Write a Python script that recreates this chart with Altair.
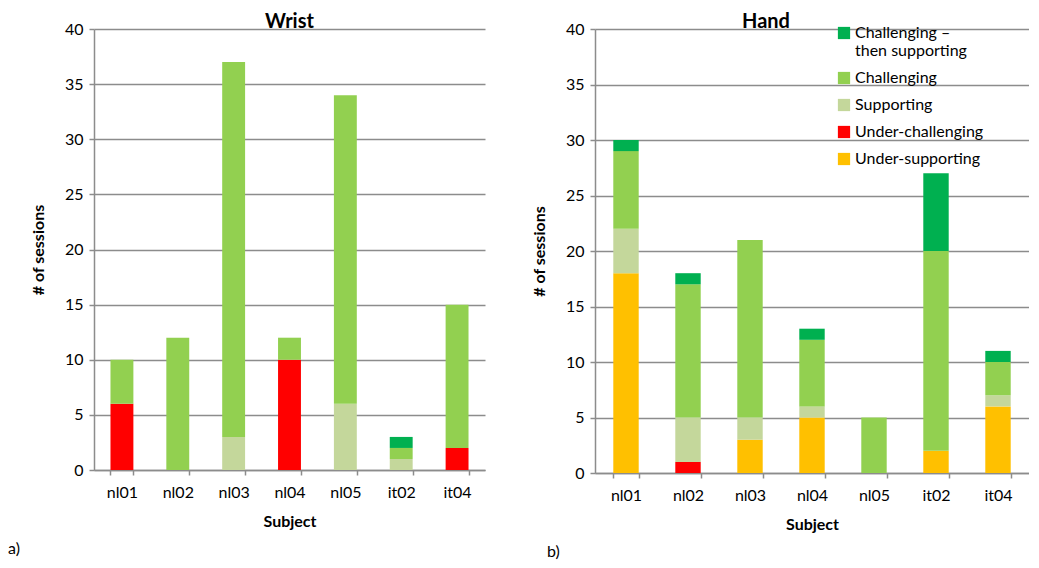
import altair as alt
import pandas as pd

subjects = ["nl01", "nl02", "nl03", "nl04", "nl05", "it02", "it04"]
categories = ["Under-supporting", "Under-challenging", "Supporting", "Challenging",
              "Challenging – then supporting"]
colors = ["#FFC000", "#FF0000", "#C4D79B", "#92D050", "#00B050"]

wrist_under_supporting = [0, 0, 0, 0, 0, 0, 0]
wrist_under_challenging = [6, 0, 0, 10, 0, 0, 2]
wrist_supporting = [0, 0, 3, 0, 6, 1, 0]
wrist_challenging = [4, 12, 34, 2, 28, 1, 13]
wrist_chal_then_supp = [0, 0, 0, 0, 0, 1, 0]

hand_under_supporting = [18, 0, 3, 5, 0, 2, 6]
hand_under_challenging = [0, 1, 0, 0, 0, 0, 0]
hand_supporting = [4, 4, 2, 1, 0, 0, 1]
hand_challenging = [7, 12, 16, 6, 5, 18, 3]
hand_chal_then_supp = [1, 1, 0, 1, 0, 7, 1]

FONT = "Lato"
GRAY = "#8C8C8C"


def long_df(series):
    rows = []
    for rank, (cat, vals) in enumerate(zip(categories, series)):
        for s, v in zip(subjects, vals):
            if v > 0:
                rows.append({"subject": s, "category": cat, "value": v, "rank": rank})
    return pd.DataFrame(rows)


wrist_df = long_df([wrist_under_supporting, wrist_under_challenging, wrist_supporting,
                    wrist_challenging, wrist_chal_then_supp])
hand_df = long_df([hand_under_supporting, hand_under_challenging, hand_supporting,
                   hand_challenging, hand_chal_then_supp])

legend_domain = categories[::-1]
legend_range = colors[::-1]


def panel(df, title, dx, width, height, show_legend, tag, tag_x):
    legend = None
    if show_legend:
        legend = alt.Legend(
            title=None, orient="none", legendX=241, legendY=-4,
            symbolType="square", symbolSize=150, symbolStrokeWidth=0,
            labelFontSize=16, labelFont=FONT, labelColor="#000000",
            rowPadding=11, labelOffset=3, labelLimit=300,
            labelExpr="datum.label == 'Challenging – then supporting' ? ['Challenging –', 'then supporting'] : datum.label",
        )
    bars = alt.Chart(df).mark_bar().encode(
        x=alt.X("subject:N", sort=subjects, title="Subject",
                scale=alt.Scale(paddingInner=0.59, paddingOuter=0.295),
                axis=alt.Axis(labelAngle=0, tickBand="extent", grid=False)),
        y=alt.Y("value:Q", stack="zero", title="# of sessions",
                scale=alt.Scale(domain=[0, 40], nice=False),
                axis=alt.Axis(values=list(range(0, 41, 5)), grid=True)),
        color=alt.Color("category:N", scale=alt.Scale(domain=legend_domain, range=legend_range),
                        legend=legend),
        order=alt.Order("rank:Q", sort="ascending"),
    )
    label = alt.Chart(pd.DataFrame({"t": [tag]})).mark_text(
        align="left", baseline="middle", fontSize=16, font=FONT, color="#000000"
    ).encode(text="t:N", x=alt.value(tag_x), y=alt.value(height + 79))
    return alt.layer(bars, label).properties(
        width=width, height=height,
        title=alt.TitleParams(title, fontSize=20, fontWeight="bold", font=FONT,
                              offset=-11, dx=dx, color="#000000"),
    )


left = panel(wrist_df, "Wrist", 0, 391, 441, False, "a)", -86)
right = panel(hand_df, "Hand", -46, 434, 444, True, "b)", -48)

chart = alt.hconcat(left, right, spacing=46).resolve_scale(color="independent").properties(
    padding={"left": 0, "top": 4, "right": 0, "bottom": 2}
).configure_view(stroke=None).configure_axis(
    domainColor=GRAY, domainWidth=1.5, tickColor=GRAY, tickWidth=1.5, tickSize=5,
    gridColor=GRAY, gridWidth=1.5,
    labelFont=FONT, labelFontSize=16, labelColor="#000000", labelPadding=6,
    titleFont=FONT, titleFontSize=16, titleFontWeight="bold", titleColor="#000000",
).configure_axisX(labelPadding=9, titlePadding=13).configure_axisY(titlePadding=18)

chart.save("out.html", embed_options={"renderer": "svg", "actions": False})
